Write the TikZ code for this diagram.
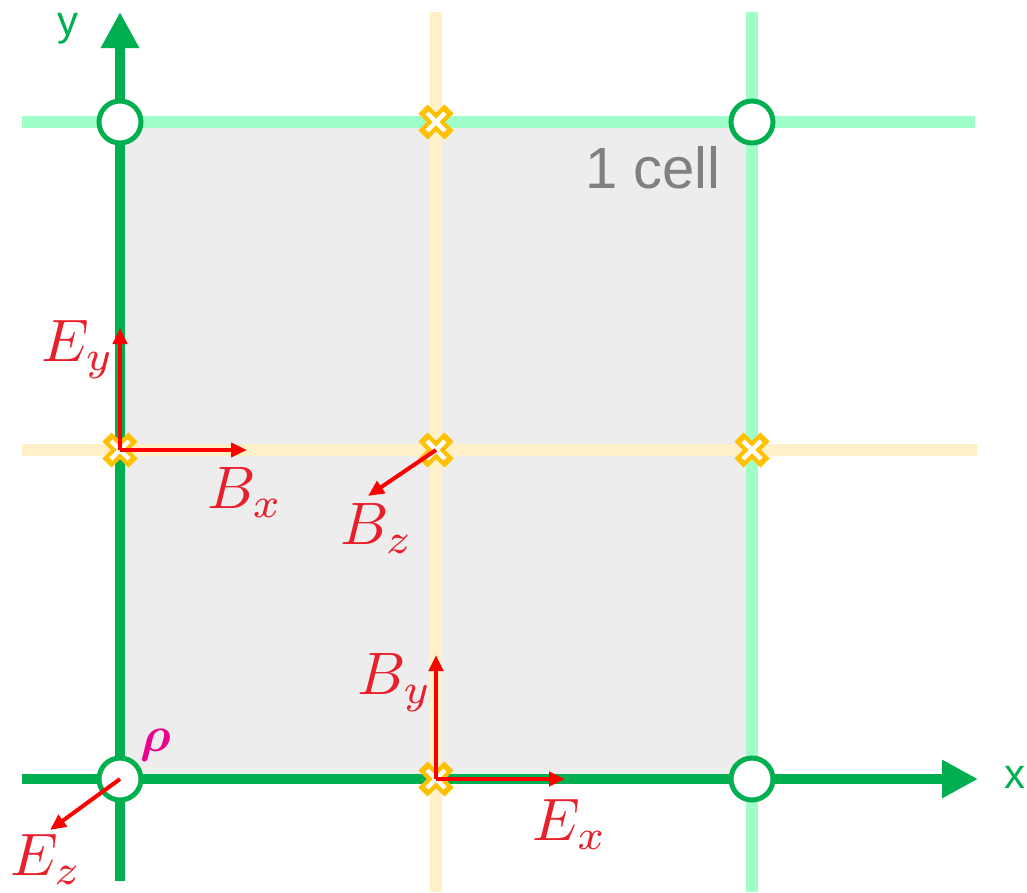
\documentclass[tikz,border=0pt]{standalone}
\usepackage{amsmath}
\usepackage{fontspec}
\newfontfamily\labelfont{Liberation Sans}
\usetikzlibrary{arrows.meta,calc}
\definecolor{axisgreen}{HTML}{00B050}
\definecolor{lightgreen}{HTML}{A0FFC8}
\definecolor{lightyellow}{HTML}{FFF0C8}
\definecolor{crossorange}{HTML}{FFC000}
\definecolor{cellgray}{HTML}{EDEDED}
\definecolor{labelred}{HTML}{E8202C}
\newcommand{\bigmath}[1]{\scalebox{6}{$#1$}}
\tikzset{
  axis/.style={draw=axisgreen,line width=10pt,-{Triangle[width=36pt,length=36pt]}},
  gline/.style={draw=lightgreen,line width=12pt},
  yline/.style={draw=lightyellow,line width=12pt},
  gridcirc/.style={circle,draw=axisgreen,fill=white,line width=5pt,minimum size=42pt,inner sep=0pt},
  field/.style={draw=red,line width=4pt,-{Triangle[width=14pt,length=16pt]}},
  flabel/.style={text=labelred,inner sep=0pt},
}
\newcommand{\crossmark}[1]{%
  \draw[crossorange,line width=13pt] ($(#1)+(-13,-13)$) -- ($(#1)+(13,13)$);
  \draw[crossorange,line width=13pt] ($(#1)+(-13,13)$) -- ($(#1)+(13,-13)$);
  \draw[white,line width=4.5pt] ($(#1)+(-9,-9)$) -- ($(#1)+(9,9)$);
  \draw[white,line width=4.5pt] ($(#1)+(-9,9)$) -- ($(#1)+(9,-9)$);
}
\begin{document}
\begin{tikzpicture}[x=1pt,y=-1pt]
\useasboundingbox (0,0) rectangle (1027,892);
% grid points
\coordinate (o) at (120,779);
\coordinate (tl) at (120,122);
\coordinate (tr) at (752,122);
\coordinate (br) at (752,779);
\coordinate (tm) at (436,122);
\coordinate (ml) at (120,450);
\coordinate (mm) at (436,450);
\coordinate (mr) at (752,450);
\coordinate (bm) at (436,779);
% cell
\fill[cellgray] (120,122) rectangle (752,779);
% light grid lines
\coordinate (yvtop) at (436,12); \coordinate (yvbot) at (436,892);
\coordinate (yhl) at (22,450); \coordinate (yhr) at (977,450);
\coordinate (gvtop) at (752,12); \coordinate (gvbot) at (752,892);
\coordinate (ghl) at (22,122); \coordinate (ghr) at (975,122);
\draw[yline] (yvtop) -- (yvbot);
\draw[yline] (yhl) -- (yhr);
\draw[gline] (gvtop) -- (gvbot);
\draw[gline] (ghl) -- (ghr);
% axes
\coordinate (xstart) at (22,779); \coordinate (xend) at (978,779);
\coordinate (ystart) at (120,881); \coordinate (yend) at (120,12);
\draw[axis] (xstart) -- (xend);
\draw[axis] (ystart) -- (yend);
\node[text=axisgreen,font=\labelfont\fontsize{42}{48}\selectfont,anchor=east,inner sep=0pt] (xl) at (1026,777) {x};
\node[text=axisgreen,font=\labelfont\fontsize{42}{48}\selectfont,inner sep=0pt] (yl) at (68,29) {y};
% circles
\node[gridcirc] (c1) at (tl) {};
\node[gridcirc] (c2) at (tr) {};
\node[gridcirc] (c3) at (o) {};
\node[gridcirc] (c4) at (br) {};
% crosses
\crossmark{tm}
\crossmark{ml}
\crossmark{mm}
\crossmark{mr}
\crossmark{bm}
% field arrows
\coordinate (eyend) at (120,328);
\coordinate (bxend) at (247,450);
\coordinate (bzend) at (368,496);
\coordinate (byend) at (436,655);
\coordinate (exend) at (565,779);
\coordinate (ezend) at (50,830);
\draw[field] (ml) -- (eyend);
\draw[field] (ml) -- (bxend);
\draw[field] (mm) -- (bzend);
\draw[field] (bm) -- (byend);
\draw[field] (bm) -- (exend);
\draw[field] (o) -- (ezend);
% labels
\node[flabel] (ey) at (78,350) {\bigmath{E_y}};
\node[flabel] (bx) at (245,492) {\bigmath{B_x}};
\node[flabel] (bz) at (377,528) {\bigmath{B_z}};
\node[flabel] (by) at (395,683) {\bigmath{B_y}};
\node[flabel] (ex) at (570,824) {\bigmath{E_x}};
\node[flabel] (ez) at (46,859) {\bigmath{E_z}};
\node[text=magenta,inner sep=0pt] (rho) at (156,745) {\scalebox{5}{$\boldsymbol{\rho}$}};
\node[text=gray,font=\labelfont\fontsize{58}{64}\selectfont,inner sep=0pt] (cell) at (653,168) {1 cell};
\end{tikzpicture}
\end{document}
